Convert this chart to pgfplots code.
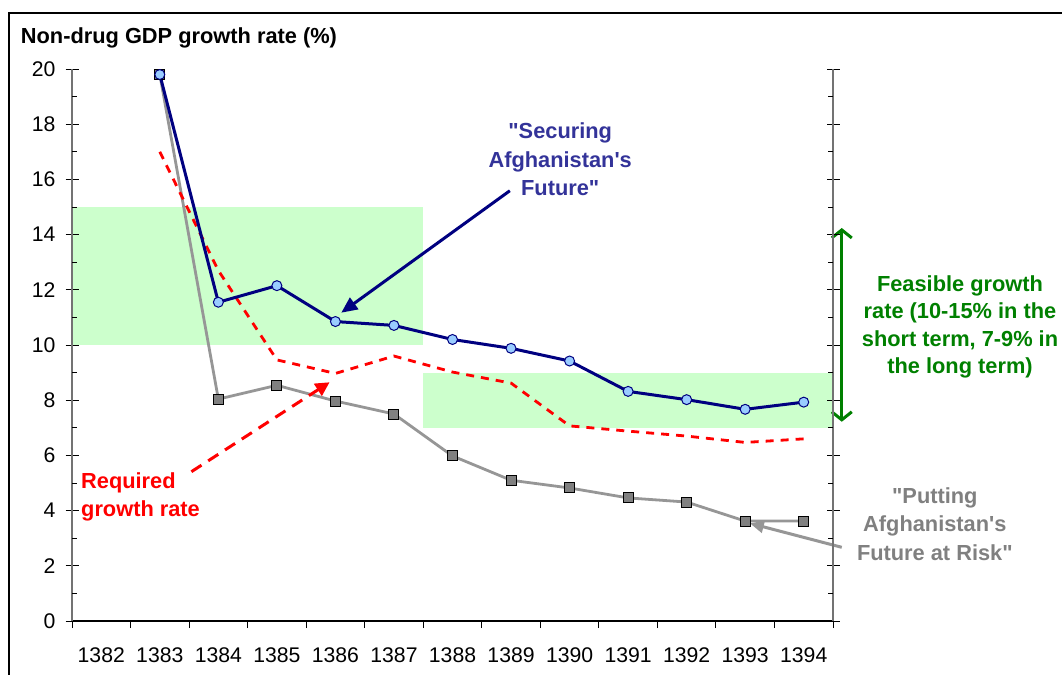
\documentclass[border=0pt]{standalone}
\usepackage{fontspec}
\setmainfont{Liberation Sans}[Ligatures=TeXOff]
\usepackage{pgfplots}
\pgfplotsset{compat=1.18}
\usetikzlibrary{arrows.meta}

\definecolor{navyline}{RGB}{0,0,128}
\definecolor{markblue}{RGB}{153,204,255}
\definecolor{greyline}{RGB}{150,150,150}
\definecolor{greymark}{RGB}{128,128,128}
\definecolor{boxgreen}{RGB}{204,255,204}
\definecolor{txtgreen}{RGB}{0,128,0}
\definecolor{txtblue}{RGB}{51,51,153}
\definecolor{txtgrey}{RGB}{128,128,128}

% 1 px of the reference = 0.5pt
\pgfplotsset{
  frame/.style={
    at={(36pt,-310.5pt)}, anchor=south west,
    scale only axis, width=380.5pt, height=276pt,
    xmin=0, xmax=13, ymin=0, ymax=20,
    /pgf/number format/assume math mode=true,
    tick label style={font=\fontsize{10.6}{12}\selectfont},
    tick style={black, line width=0.5pt},
  },
}
\tikzset{note/.style={font=\bfseries\fontsize{10.9}{14.2}\selectfont, align=center, inner sep=0pt}}

\begin{document}
\begin{tikzpicture}
\useasboundingbox (0,0) rectangle (531pt,-337.5pt);
\draw[line width=1pt] (4.5pt,-340pt) -- (4.5pt,-6.5pt) -- (535pt,-6.5pt);
\node[anchor=base west, inner sep=0pt, font=\bfseries\fontsize{10.9}{13}\selectfont]
  at (10.25pt,-21.5pt) {Non-drug GDP growth rate (\%)};

% data axis with the category axis
\begin{axis}[frame, hide y axis, axis x line*=bottom, clip=false,
  xtick={0,...,13},
  xticklabels={1382,1383,1384,1385,1386,1387,1388,1389,1390,1391,1392,1393,1394,{}},
  tick align=outside, major tick length=3.5pt,
  x axis line style={black, line width=0.8pt, -},
  xticklabel style={xshift=14.64pt, yshift=-6.5pt}]

\fill[boxgreen] (axis cs:0,10) rectangle (axis cs:6,15);
\fill[boxgreen] (axis cs:6,7) rectangle (axis cs:13,9);

% "Putting Afghanistan's Future at Risk"
\addplot[greyline, line width=1.4pt, mark=square*, mark size=2.5pt,
  mark options={fill=greymark, draw=black, line width=0.5pt}] coordinates {
  (1.5,19.8) (2.5,8.04) (3.5,8.54) (4.5,7.97) (5.5,7.5) (6.5,5.98)
  (7.5,5.1) (8.5,4.82) (9.5,4.46) (10.5,4.31) (11.5,3.62) (12.5,3.62)
};
% required growth rate
\addplot[red, line width=1.4pt, dash pattern=on 4pt off 3.5pt] coordinates {
  (1.5,17.0) (2.5,12.7) (3.5,9.46) (4.5,8.97) (5.5,9.6) (6.5,9.02)
  (7.5,8.62) (8.5,7.07) (9.5,6.88) (10.5,6.7) (11.5,6.47) (12.5,6.6)
};
% "Securing Afghanistan's Future"
\addplot[navyline, line width=1.5pt, mark=*, mark size=2.5pt,
  mark options={fill=markblue, draw=navyline, line width=0.5pt}] coordinates {
  (1.5,19.8) (2.5,11.55) (3.5,12.15) (4.5,10.85) (5.5,10.71) (6.5,10.2)
  (7.5,9.88) (8.5,9.42) (9.5,8.32) (10.5,8.02) (11.5,7.67) (12.5,7.93)
};

\node[note, text=txtblue] at (axis cs:8.34,16.72) {"Securing\\Afghanistan's\\Future"};
\draw[navyline, line width=1.5pt, -{Triangle[length=8pt,width=7pt]}]
  (axis cs:7.48,15.59) -- (axis cs:4.6,11.17);

\node[note, text=red, align=left, anchor=west] at (axis cs:0.15,4.49) {Required\\growth rate};
\draw[red, line width=1.5pt, dash pattern=on 6pt off 4pt, -{Triangle[length=7pt,width=7pt]}]
  (axis cs:2.04,5.41) -- (axis cs:4.4,8.65);

\node[note, text=txtgrey] at (axis cs:14.74,3.51) {"Putting\\Afghanistan's\\Future at Risk"};
\draw[greyline, line width=1.5pt, -{Triangle[length=7pt,width=6pt]}]
  (axis cs:13.15,2.67) -- (axis cs:11.58,3.54);

\node[note, text=txtgreen, font=\bfseries\fontsize{10.9}{13.75}\selectfont] at (axis cs:15.17,10.65)
  {Feasible growth\\rate (10-15\% in the\\short term, 7-9\% in\\the long term)};
\draw[txtgreen, line width=1.5pt,
  {Straight Barb[length=4pt,width=10pt]}-{Straight Barb[length=4pt,width=10pt]}]
  (axis cs:13.15,14.24) -- (axis cs:13.15,7.22);
\end{axis}

% value axes, major ticks
\begin{axis}[frame, hide x axis,
  ytick={0,2,...,20}, yticklabel pos=left,
  tick align=center, major tick length=6.5pt,
  y axis line style={draw=black!55, line width=0.8pt},
  yticklabel style={xshift=-1.5pt}]
\end{axis}
% value axes, minor ticks
\begin{axis}[frame, hide x axis,
  ytick={1,3,...,19}, yticklabels={},
  tick align=inside, major tick length=2.5pt,
  y axis line style={draw=none}]
\end{axis}
\end{tikzpicture}
\end{document}
